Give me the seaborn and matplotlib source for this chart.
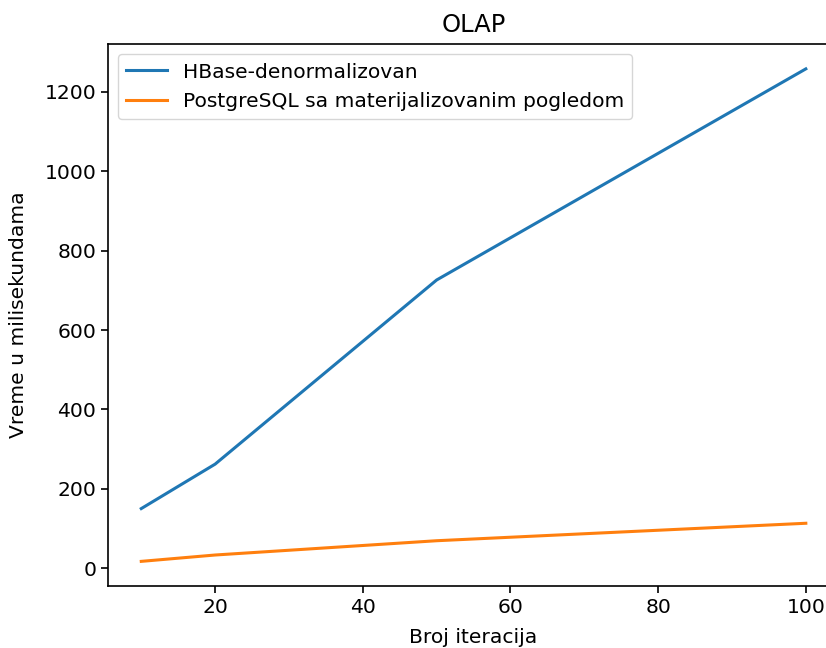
import matplotlib
matplotlib.use("Agg")
import matplotlib.pyplot as plt
import seaborn as sns
import pandas as pd

# Data
iteracije = [10, 20, 50, 100]
hbase = [150, 262, 726, 1258]
postgres = [17, 33, 69, 113]
serije = ["HBase-denormalizovan", "PostgreSQL sa materijalizovanim pogledom"]

df = pd.DataFrame({
    "Broj iteracija": iteracije * 2,
    "Vreme": hbase + postgres,
    "Serija": [serije[0]] * len(iteracije) + [serije[1]] * len(iteracije),
})

plt.rcParams["font.size"] = 14.6

fig = plt.figure(figsize=(8.26, 6.48), dpi=100)
ax = fig.add_axes([0.1308, 0.0957, 0.885, 0.836])

sns.lineplot(data=df, x="Broj iteracija", y="Vreme", hue="Serija",
             palette=["#1f77b4", "#ff7f0e"], linewidth=2.2, ax=ax)

ax.set_title("OLAP", fontsize=17.5, pad=9)
ax.set_xlabel("Broj iteracija", labelpad=8)
ax.set_ylabel("Vreme u milisekundama", labelpad=12)
for s in ax.spines.values():
    s.set_linewidth(1.2)
ax.tick_params(width=1.2, length=5)
ax.legend(title=None, loc="upper left")

fig.savefig("out.png", dpi=100)
